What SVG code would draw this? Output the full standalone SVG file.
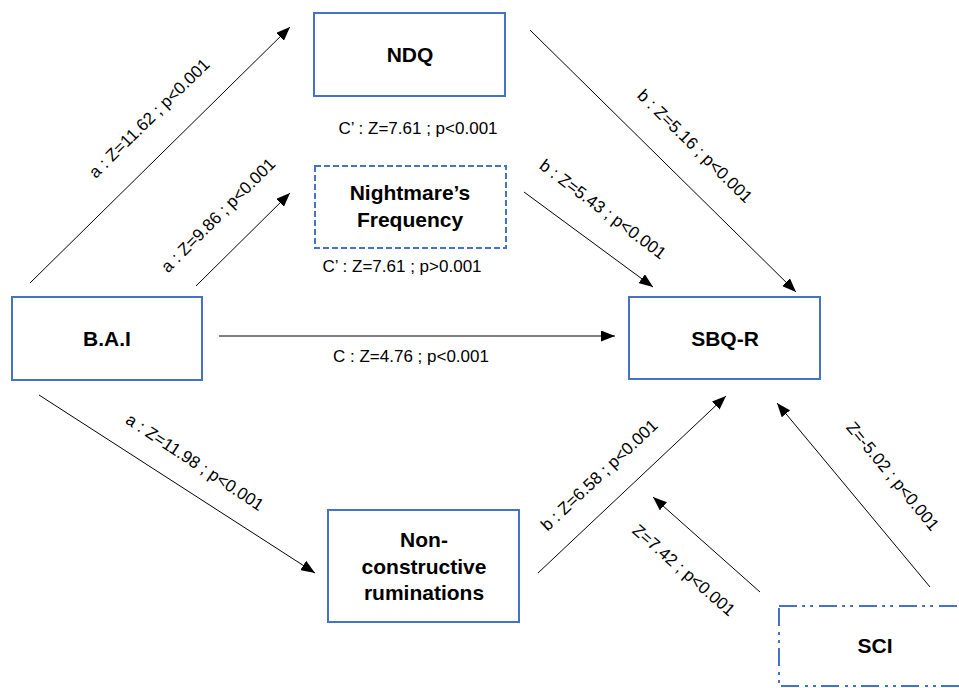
<svg xmlns="http://www.w3.org/2000/svg" width="959" height="688" viewBox="0 0 959 688">
<defs>
<marker id="ah" markerUnits="userSpaceOnUse" markerWidth="14" markerHeight="11" refX="14" refY="5.5" orient="auto">
<path d="M0,0 L14,5.5 L0,11 z" fill="#000"/>
</marker>
<style>
.box{fill:#fff;stroke:#4472C4;stroke-width:2}
.dash{stroke-dasharray:6 3}
.dd{stroke-dasharray:18 5 3 5 3 6}
.t{font-family:"Liberation Sans",Arial,sans-serif;font-weight:bold;font-size:21px;text-anchor:middle;fill:#000}
.l{font-family:"Liberation Sans",Arial,sans-serif;font-size:17px;text-anchor:middle;fill:#000}
.c{stroke:#000;stroke-width:1;fill:none;marker-end:url(#ah)}
</style>
</defs>
<rect width="959" height="688" fill="#fff"/>
<g id="connectors">
<line class="c" x1="30" y1="283" x2="290" y2="27"/>
<line class="c" x1="196" y1="286" x2="290" y2="193"/>
<line class="c" x1="530" y1="30" x2="796" y2="292"/>
<line class="c" x1="524" y1="192" x2="653" y2="287"/>
<line class="c" x1="219" y1="336" x2="615" y2="336"/>
<line class="c" x1="39" y1="395" x2="315" y2="573"/>
<line class="c" x1="538" y1="573" x2="726" y2="396"/>
<line class="c" x1="760" y1="592" x2="653" y2="497"/>
<line class="c" x1="930" y1="587" x2="777" y2="403"/>
<text class="l" transform="translate(149,118) rotate(-44.6)" y="6">a : Z=11.62 ; p&lt;0.001</text>
<text class="l" transform="translate(218,215) rotate(-45)" y="6">a : Z=9.86 ; p&lt;0.001</text>
<text class="l" transform="translate(695,146) rotate(44.5)" y="6">b : Z=5.16 ; p&lt;0.001</text>
<text class="l" transform="translate(603,209) rotate(37)" y="6">b : Z=5.43 ; p&lt;0.001</text>
<text class="l" transform="translate(195,462) rotate(33.5)" y="6">a : Z=11.98 ; p&lt;0.001</text>
<text class="l" transform="translate(599,475) rotate(-43.3)" y="6">b : Z=6.58 ; p&lt;0.001</text>
<text class="l" transform="translate(684,570) rotate(41)" y="6">Z=7.42 ; p&lt;0.001</text>
<text class="l" transform="translate(893,476) rotate(50.5)" y="6">Z=-5.02 ; p&lt;0.001</text>
<text class="l" x="418" y="134">C’ : Z=7.61 ; p&lt;0.001</text>
<text class="l" x="402" y="272">C’ : Z=7.61 ; p&gt;0.001</text>
<text class="l" x="411" y="362">C : Z=4.76 ; p&lt;0.001</text>
</g>
<g id="ndq">
<rect class="box" x="314" y="13" width="191" height="83"/>
<text class="t" x="410" y="62">NDQ</text>
</g>
<g id="nightmare">
<rect class="box dash" x="315" y="166" width="191" height="82"/>
<text class="t" x="410" y="200">Nightmare’s</text>
<text class="t" x="410" y="227">Frequency</text>
</g>
<g id="bai">
<rect class="box" x="12" y="297" width="190" height="83"/>
<text class="t" x="107" y="346">B.A.I</text>
</g>
<g id="sbqr">
<rect class="box" x="629" y="297" width="191" height="82"/>
<text class="t" x="725" y="346">SBQ-R</text>
</g>
<g id="ruminations">
<rect class="box" x="328" y="510" width="191" height="112"/>
<text class="t" x="424" y="547">Non-</text>
<text class="t" x="424" y="574">constructive</text>
<text class="t" x="424" y="600">ruminations</text>
</g>
<g id="sci">
<rect class="box dd" x="779" y="606" width="190" height="80"/>
<text class="t" x="875" y="653">SCI</text>
</g>
</svg>
